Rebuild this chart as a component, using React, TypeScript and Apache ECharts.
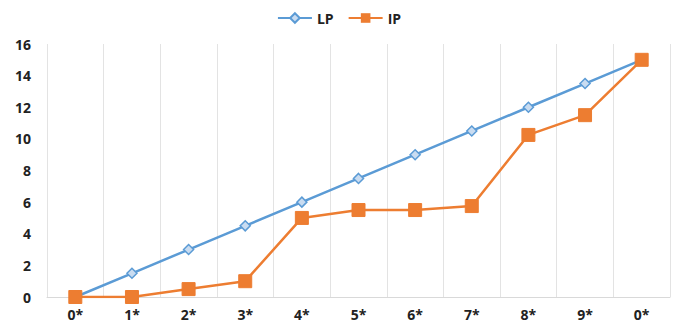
import React, { useEffect, useRef } from "react";
import * as echarts from "echarts";

const categories = ["0*", "1*", "2*", "3*", "4*", "5*", "6*", "7*", "8*", "9*", "0*"];
const lpValues = [0, 1.5, 3, 4.5, 6, 7.5, 9, 10.5, 12, 13.5, 15];
const ipValues = [0, 0, 0.5, 1, 5, 5.5, 5.5, 5.75, 10.25, 11.5, 15];
const yTicks = { min: 0, max: 16, interval: 2 };

export default function App() {
  const ref = useRef<HTMLDivElement>(null);

  useEffect(() => {
    if (!ref.current) return;
    const chart = echarts.init(ref.current, undefined, { renderer: "svg" });
    chart.setOption({
      animation: false,
      textStyle: { fontFamily: "Open Sans, Liberation Sans, sans-serif" },
      legend: {
        top: 6,
        left: "center",
        itemWidth: 34,
        itemHeight: 12,
        itemGap: 14,
        textStyle: { fontSize: 14, color: "#222", fontWeight: "bold" },
        data: ["LP", "IP"],
      },
      grid: { left: 47, right: 8, top: 44, bottom: 32 },
      xAxis: {
        type: "category",
        data: categories,
        boundaryGap: true,
        axisLine: { show: true, lineStyle: { color: "#d9d9d9", width: 1 } },
        axisTick: { show: false },
        axisLabel: { fontSize: 14, color: "#222", fontWeight: "bold", margin: 10 },
        splitLine: { show: true, lineStyle: { color: "#e3e3e3", width: 1 } },
      },
      yAxis: {
        type: "value",
        min: yTicks.min,
        max: yTicks.max,
        interval: yTicks.interval,
        axisLine: { show: false },
        axisTick: { show: false },
        axisLabel: { fontSize: 14, color: "#222", fontWeight: "bold", margin: 16 },
        splitLine: { show: false },
      },
      series: [
        {
          name: "LP",
          type: "line",
          data: lpValues,
          symbol: "diamond",
          symbolSize: 10,
          itemStyle: { color: "#c9dcf1", borderColor: "#5b9bd5", borderWidth: 1.5 },
          lineStyle: { color: "#5b9bd5", width: 2.5 },
          z: 2,
        },
        {
          name: "IP",
          type: "line",
          data: ipValues,
          symbol: "rect",
          symbolSize: 13,
          itemStyle: { color: "#ed7d31", borderColor: "#ed7d31" },
          lineStyle: { color: "#ed7d31", width: 2.5 },
          z: 3,
        },
      ],
    });
    return () => chart.dispose();
  }, []);

  return <div ref={ref} style={{ width: 678, height: 329, position: "absolute", left: 0, top: 0 }} />;
}
